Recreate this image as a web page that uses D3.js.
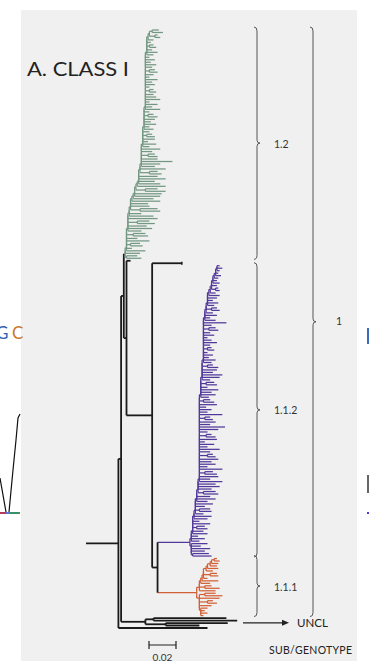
<!DOCTYPE html>
<html>
<head>
<meta charset="utf-8">
<script src="https://cdn.jsdelivr.net/npm/d3@7"></script>
<style>
  body { margin: 0; background: #fff; }
  svg { display: block; font-family: Lato, "Open Sans", sans-serif; }
</style>
</head>
<body>
<svg width="369" height="661"></svg>
<script>
// distances (substitutions/site), cumulative from the root
// ladder entries: [spine, tip] or [spine, cherryNode, tipA, tipB]; last entry: [tip] or [node, tipA, tipB]
const greenUp = [
  [0.029,0.040],[0.030,0.044],[0.030,0.034],[0.030,0.033,0.040,0.042],[0.030,0.047],[0.030,0.038],[0.030,0.035,0.044,0.046],[0.031,0.041],[0.031,0.049],[0.031,0.045],
  [0.031,0.038,0.047,0.051],[0.031,0.053],[0.032,0.050],[0.032,0.041],[0.033,0.040,0.053,0.055],[0.033,0.047],[0.033,0.046],[0.034,0.055],[0.035,0.050],[0.036,0.055],
  [0.036,0.056],[0.037,0.044,0.053,0.059],[0.038,0.059],[0.039,0.055],[0.039,0.051],[0.039,0.059],[0.039,0.053],[0.040,0.047,0.053,0.056],[0.040,0.059],[0.041,0.051],
  [0.041,0.055],[0.041,0.064],[0.041,0.053],[0.041,0.046,0.051,0.053],[0.041,0.049],[0.041,0.055],[0.042,0.047],[0.042,0.052],[0.042,0.046],[0.042,0.051],
  [0.042,0.045,0.049,0.051],[0.042,0.047],[0.043,0.050],[0.043,0.047],[0.043,0.052],[0.043,0.048],[0.043,0.051],[0.043,0.046,0.050,0.053],[0.043,0.047],[0.044,0.055],
  [0.044,0.049],[0.044,0.053],[0.044,0.047],[0.044,0.055],[0.044,0.052],[0.044,0.050],[0.044,0.047,0.050,0.052],[0.044,0.047],[0.044,0.051],[0.044,0.049],
  [0.044,0.053],[0.044,0.047],[0.044,0.050],[0.044,0.047,0.051,0.053],[0.044,0.049],[0.044,0.052],[0.044,0.048],[0.044,0.051],[0.044,0.047],[0.045,0.050],
  [0.045,0.053],[0.045,0.049],[0.045,0.047,0.050,0.052],[0.045,0.048],[0.046,0.050],[0.047,0.051,0.053,0.055],[0.049,0.054,0.057]
];
const greenDown = [[0.030,0.038],[0.041]];

const purpleUp = [
  [0.078,0.084],[0.078,0.088],[0.078,0.083],[0.079,0.090],[0.079,0.087],[0.079,0.082,0.088,0.090],[0.079,0.092],[0.079,0.084],[0.080,0.090],[0.080,0.093],
  [0.081,0.087],[0.081,0.084,0.092,0.093],[0.081,0.088],[0.081,0.094],[0.082,0.090],[0.082,0.096],[0.082,0.092],[0.083,0.087,0.096,0.098],[0.083,0.093],[0.083,0.099],
  [0.083,0.096],[0.084,0.101],[0.084,0.092],[0.084,0.098],[0.084,0.088,0.094,0.097],[0.084,0.101],[0.084,0.090],[0.084,0.096],[0.084,0.093],[0.084,0.098],
  [0.084,0.090,0.094,0.096],[0.084,0.092],[0.084,0.099],[0.084,0.090],[0.084,0.095],[0.084,0.088],[0.084,0.097],[0.084,0.089,0.093,0.096],[0.084,0.090],[0.084,0.098],
  [0.084,0.103],[0.084,0.092],[0.084,0.096],[0.084,0.088,0.092,0.094],[0.084,0.101],[0.084,0.090],[0.084,0.093],[0.084,0.089],[0.084,0.097],[0.084,0.087,0.092,0.095],
  [0.085,0.091],[0.085,0.096],[0.085,0.093],[0.085,0.098],[0.085,0.090],[0.085,0.089,0.095,0.097],[0.086,0.092],[0.086,0.099],[0.086,0.101],[0.086,0.094],
  [0.086,0.097],[0.086,0.090,0.094,0.098],[0.087,0.093],[0.087,0.096],[0.087,0.091],[0.087,0.094],[0.087,0.090],[0.087,0.090,0.093,0.095],[0.087,0.092],[0.087,0.097],
  [0.087,0.093],[0.087,0.090],[0.087,0.095],[0.087,0.092],[0.087,0.091,0.096,0.098],[0.087,0.093],[0.087,0.104],[0.088,0.096],[0.088,0.092],[0.088,0.097],
  [0.089,0.094],[0.089,0.093,0.097,0.099],[0.090,0.095],[0.090,0.098],[0.090,0.094],[0.090,0.097],[0.091,0.099],[0.092,0.096],[0.093,0.096,0.098,0.099],[0.093,0.097],
  [0.094,0.099],[0.094,0.097],[0.095,0.098],[0.096,0.100],[0.096,0.098],[0.097,0.099],[0.097,0.099,0.101]
];
const purpleDown = [[0.078,0.090],[0.078,0.085],[0.078,0.092],[0.078,0.088],[0.079,0.091],[0.093]];

const orangeUp = [
  [0.084,0.096],[0.084,0.088,0.093,0.099],[0.085,0.092],[0.086,0.098],[0.087,0.090],[0.087,0.092,0.097,0.098],
  [0.089,0.094],[0.090,0.098],[0.092,0.097],[0.093,0.098],[0.095,0.097,0.099]
];
const orangeDown = [[0.084,0.088,0.096,0.101],[0.084,0.099],[0.084,0.090,0.094,0.097],[0.084,0.093],[0.085,0.090],[0.085,0.088],[0.085,0.090],[0.087]];

const backboneDepths = [0.024, 0.026, 0.028, 0.030, 0.049, 0.053];
const cladeRootDepths = [0.029, 0.077, 0.082];
const loneTipDepths = [0.033, 0.071, 0.090];
const unclNodeDepths = [0.044, 0.050, 0.059];
const unclTipDepths = [0.104, 0.112, 0.105, 0.084];

const subtypeLabels = ["1.2", "1.1.2", "1.1.1"];
const genotypeLabels = ["1"];
const cladeKeys = ["g", "p", "o"];
const cladeColors = { g: "#739882", p: "#52389a", o: "#d26036" };

// tree building
const side = e => e.length === 2 ? { depth: e[1] } : { depth: e[1], children: [{ depth: e[2] }, { depth: e[3] }] };
const twig = e => e.length === 1 ? { depth: e[0] } : { depth: e[0], children: [{ depth: e[1] }, { depth: e[2] }] };
function ladder(entries, up) {
  const [e, ...rest] = entries;
  if (!rest.length) return twig(e);
  const next = ladder(rest, up);
  return { depth: e[0], children: up ? [next, side(e)] : [side(e), next] };
}
const clade = (key, depth, up, down) => ({ depth, clade: key, children: [ladder(up, true), ladder(down, false)] });

const [dR, dA, dD, dC, dE, dF] = backboneDepths;
const tree = { depth: 0, children: [
  { depth: dR, children: [
    { depth: dA, children: [
      { depth: dD, children: [
        clade("g", cladeRootDepths[0], greenUp, greenDown),
        { depth: dC, children: [
          { depth: loneTipDepths[0] },
          { depth: dE, children: [
            { depth: loneTipDepths[1] },
            { depth: dF, children: [
              clade("p", cladeRootDepths[1], purpleUp, purpleDown),
              clade("o", cladeRootDepths[2], orangeUp, orangeDown)
            ]}
          ]}
        ]}
      ]},
      { depth: unclNodeDepths[0], uncl: true, children: [
        { depth: unclNodeDepths[1], children: [{ depth: unclTipDepths[0] }, { depth: unclTipDepths[1] }] },
        { depth: unclNodeDepths[2], children: [{ depth: unclTipDepths[2] }, { depth: unclTipDepths[3] }] }
      ]}
    ]},
    { depth: loneTipDepths[2] }
  ]}
]};

const svg = d3.select("svg");
svg.append("rect").attr("x", 21).attr("y", 10).attr("width", 336).attr("height", 651).attr("fill", "#f0f0f0");

const root = d3.hierarchy(tree);
const leaves = root.leaves();
const x = d3.scaleLinear().domain([0, 0.1]).range([86, 221]);
const y = d3.scaleLinear().domain([0, leaves.length - 1]).range([30, 628]);
leaves.forEach((l, i) => l.y = y(i));
root.eachAfter(n => { if (n.children) n.y = (n.children[0].y + n.children[n.children.length - 1].y) / 2; });
root.eachBefore(n => {
  n.x = x(n.data.depth);
  n.clade = n.data.clade || (n.parent ? n.parent.clade : null);
});

const colorOf = n => n.clade ? cladeColors[n.clade] : "#1a1a1a";
const widthOf = n => n.clade ? 1.25 : 1.8;

const g = svg.append("g").attr("fill", "none");
// horizontal branches
g.selectAll("path.h").data(root.descendants().filter(n => n.parent)).join("path")
  .attr("d", n => `M${n.parent.x},${n.y}H${n.x}`)
  .attr("stroke", colorOf).attr("stroke-width", widthOf);
// vertical connectors
g.selectAll("path.v").data(root.descendants().filter(n => n.children && n.children.length > 1)).join("path")
  .attr("d", n => `M${n.x},${n.children[0].y}V${n.children[n.children.length - 1].y}`)
  .attr("stroke", colorOf).attr("stroke-width", widthOf);
// tick at the end of the lone long branch
const lone = leaves.find(l => l.data.depth === loneTipDepths[1]);
g.append("path").attr("d", `M${lone.x},${lone.y - 1.5}V${lone.y + 1.5}`).attr("stroke", "#1a1a1a").attr("stroke-width", 1.5);

// braces
function brace(xb, y0, y1) {
  const ym = (y0 + y1) / 2;
  return `M${xb - 3},${y0}Q${xb},${y0} ${xb},${y0 + 4}V${ym - 3}Q${xb},${ym} ${xb + 3},${ym}Q${xb},${ym} ${xb},${ym + 3}V${y1 - 4}Q${xb},${y1} ${xb - 3},${y1}`;
}
const extents = cladeKeys.map(k => d3.extent(leaves.filter(l => l.clade === k), l => l.y));
const braceG = svg.append("g");
extents.forEach((ext, i) => {
  braceG.append("path").attr("d", brace(257, ext[0] - 3, ext[1] + 1))
    .attr("fill", "none").attr("stroke", "#555").attr("stroke-width", 1);
  braceG.append("text").attr("x", 274).attr("y", (ext[0] + ext[1]) / 2 + 3.5)
    .attr("font-size", 10.5).attr("fill", "#333").text(subtypeLabels[i]);
});
const gTop = extents[0][0] - 3, gBot = extents[2][1] + 1;
braceG.append("path").attr("d", brace(313, gTop, gBot))
  .attr("fill", "none").attr("stroke", "#555").attr("stroke-width", 1);
braceG.append("text").attr("x", 336).attr("y", (gTop + gBot) / 2 + 3.5)
  .attr("font-size", 10.5).attr("fill", "#333").text(genotypeLabels[0]);

// UNCL arrow
const unclY = root.descendants().find(n => n.data.uncl).y + 1;
svg.append("line").attr("x1", 243).attr("x2", 284).attr("y1", unclY).attr("y2", unclY)
  .attr("stroke", "#222").attr("stroke-width", 1.2);
svg.append("path").attr("d", `M289,${unclY}L282,${unclY - 3}L282,${unclY + 3}Z`).attr("fill", "#222");
svg.append("text").attr("x", 297).attr("y", unclY + 4.5).attr("font-size", 11.5).attr("fill", "#222").text("UNCL");

// scale bar
const sb = [0, 0.02].map(d => x(d) + 63);
svg.append("path").attr("d", `M${sb[0]},641V649M${sb[0]},645H${sb[1]}M${sb[1]},641V649`)
  .attr("fill", "none").attr("stroke", "#222").attr("stroke-width", 1.2);
svg.append("text").attr("x", (sb[0] + sb[1]) / 2).attr("y", 661).attr("text-anchor", "middle")
  .attr("font-size", 10).attr("fill", "#333").text("0.02");
svg.append("text").attr("x", 269).attr("y", 654).attr("font-size", 10.5).attr("fill", "#222")
  .attr("textLength", 83).text("SUB/GENOTYPE");

// title
svg.append("text").attr("x", 27).attr("y", 76).attr("font-size", 18.5).attr("fill", "#222")
  .attr("textLength", 102).attr("lengthAdjust", "spacingAndGlyphs").text("A. CLASS I");

// fragments of neighbouring panels
svg.append("text").attr("x", -4).attr("y", 339).attr("font-size", 17).attr("fill", "#2f5fb3").text("G");
svg.append("text").attr("x", 12).attr("y", 339).attr("font-size", 17).attr("fill", "#c7782c").text("C");
svg.append("path").attr("d", "M0,478L6,512M9,512L13,470L16,440L18,418L20,414")
  .attr("fill", "none").attr("stroke", "#111").attr("stroke-width", 1.2);
svg.append("line").attr("x1", 0).attr("x2", 20).attr("y1", 513).attr("y2", 513).attr("stroke", "#2a44d0").attr("stroke-width", 1.5);
svg.append("line").attr("x1", 9).attr("x2", 19).attr("y1", 513).attr("y2", 513).attr("stroke", "#2a9a40").attr("stroke-width", 1.5);
svg.append("line").attr("x1", 0).attr("x2", 6).attr("y1", 513).attr("y2", 513).attr("stroke", "#d02828").attr("stroke-width", 1.5);
svg.append("rect").attr("x", 367).attr("y", 328).attr("width", 2).attr("height", 16).attr("fill", "#3c6ab8");
svg.append("rect").attr("x", 367).attr("y", 475).attr("width", 2).attr("height", 18).attr("fill", "#666");
svg.append("rect").attr("x", 367).attr("y", 512).attr("width", 2).attr("height", 2).attr("fill", "#4a3ad0");
</script>
</body>
</html>
